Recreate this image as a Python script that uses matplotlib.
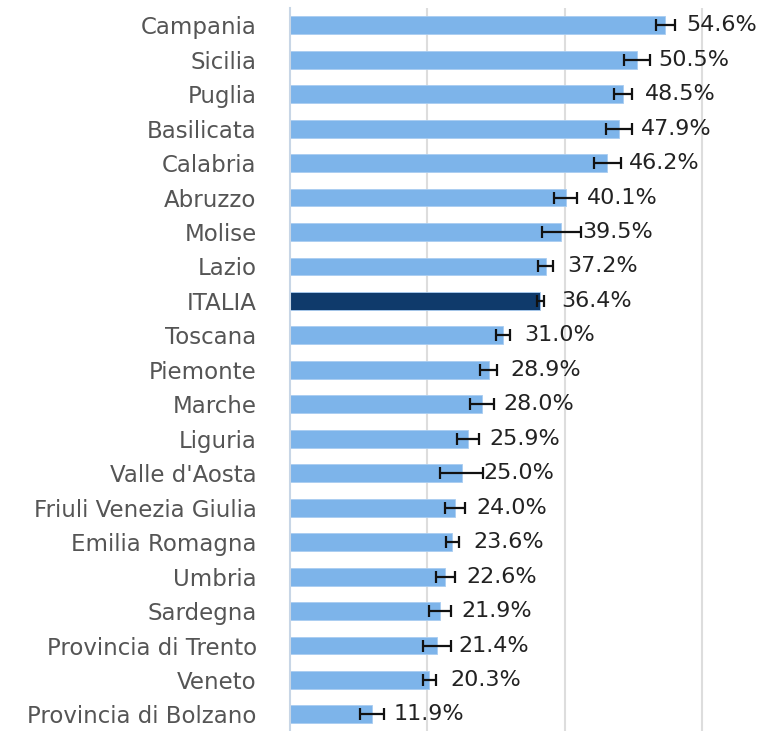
import matplotlib
matplotlib.use("Agg")
import matplotlib.pyplot as plt

regioni = ["Campania", "Sicilia", "Puglia", "Basilicata", "Calabria", "Abruzzo",
           "Molise", "Lazio", "ITALIA", "Toscana", "Piemonte", "Marche", "Liguria",
           "Valle d'Aosta", "Friuli Venezia Giulia", "Emilia Romagna", "Umbria",
           "Sardegna", "Provincia di Trento", "Veneto", "Provincia di Bolzano"]
valori = [54.6, 50.5, 48.5, 47.9, 46.2, 40.1, 39.5, 37.2, 36.4, 31.0, 28.9,
          28.0, 25.9, 25.0, 24.0, 23.6, 22.6, 21.9, 21.4, 20.3, 11.9]
errori = [1.4, 1.9, 1.3, 1.85, 1.9, 1.65, 2.8, 1.1, 0.5, 1.05, 1.25,
          1.75, 1.6, 3.1, 1.5, 0.95, 1.35, 1.6, 2.05, 0.9, 1.75]
griglia = [20, 40, 60]

colore = "#7db4ea"
colore_italia = "#0f3a6b"

fig = plt.figure(figsize=(7.6, 7.31), dpi=100)
ax = fig.add_axes([290 / 760, 0, 1 - 290 / 760, 723 / 731])

pos = list(range(len(regioni)))
colori = [colore_italia if r == "ITALIA" else colore for r in regioni]
ax.barh(pos, valori, height=0.52, color=colori, edgecolor="#a9cdf1",
        linewidth=0.6, zorder=2)
ax.errorbar(valori, pos, xerr=errori, fmt="none", ecolor="#111111",
            elinewidth=1.6, capsize=4, capthick=1.6, zorder=3)

# etichette dei valori a destra delle barre
for y, v in zip(pos, valori):
    ax.text(v + 3.1, y, f"{v:.1f}%", va="center", ha="left",
            fontsize=16, color="#222222")

ax.set_xlim(0, 68.4)
ax.set_ylim(20.48, -0.5)
ax.set_xticks(griglia)
ax.xaxis.grid(True, color="#dddddd", linewidth=1.5, zorder=0)
ax.tick_params(axis="x", length=0, labelbottom=False)
ax.set_yticks(pos)
ax.set_yticklabels(regioni, fontsize=16.5, color="#555555")
ax.tick_params(axis="y", length=0, pad=24)
for s in ["top", "right", "bottom"]:
    ax.spines[s].set_visible(False)
ax.spines["left"].set_color("#c8d6e6")
ax.spines["left"].set_linewidth(1.5)
ax.set_axisbelow(True)

fig.savefig("out.png", dpi=100)
